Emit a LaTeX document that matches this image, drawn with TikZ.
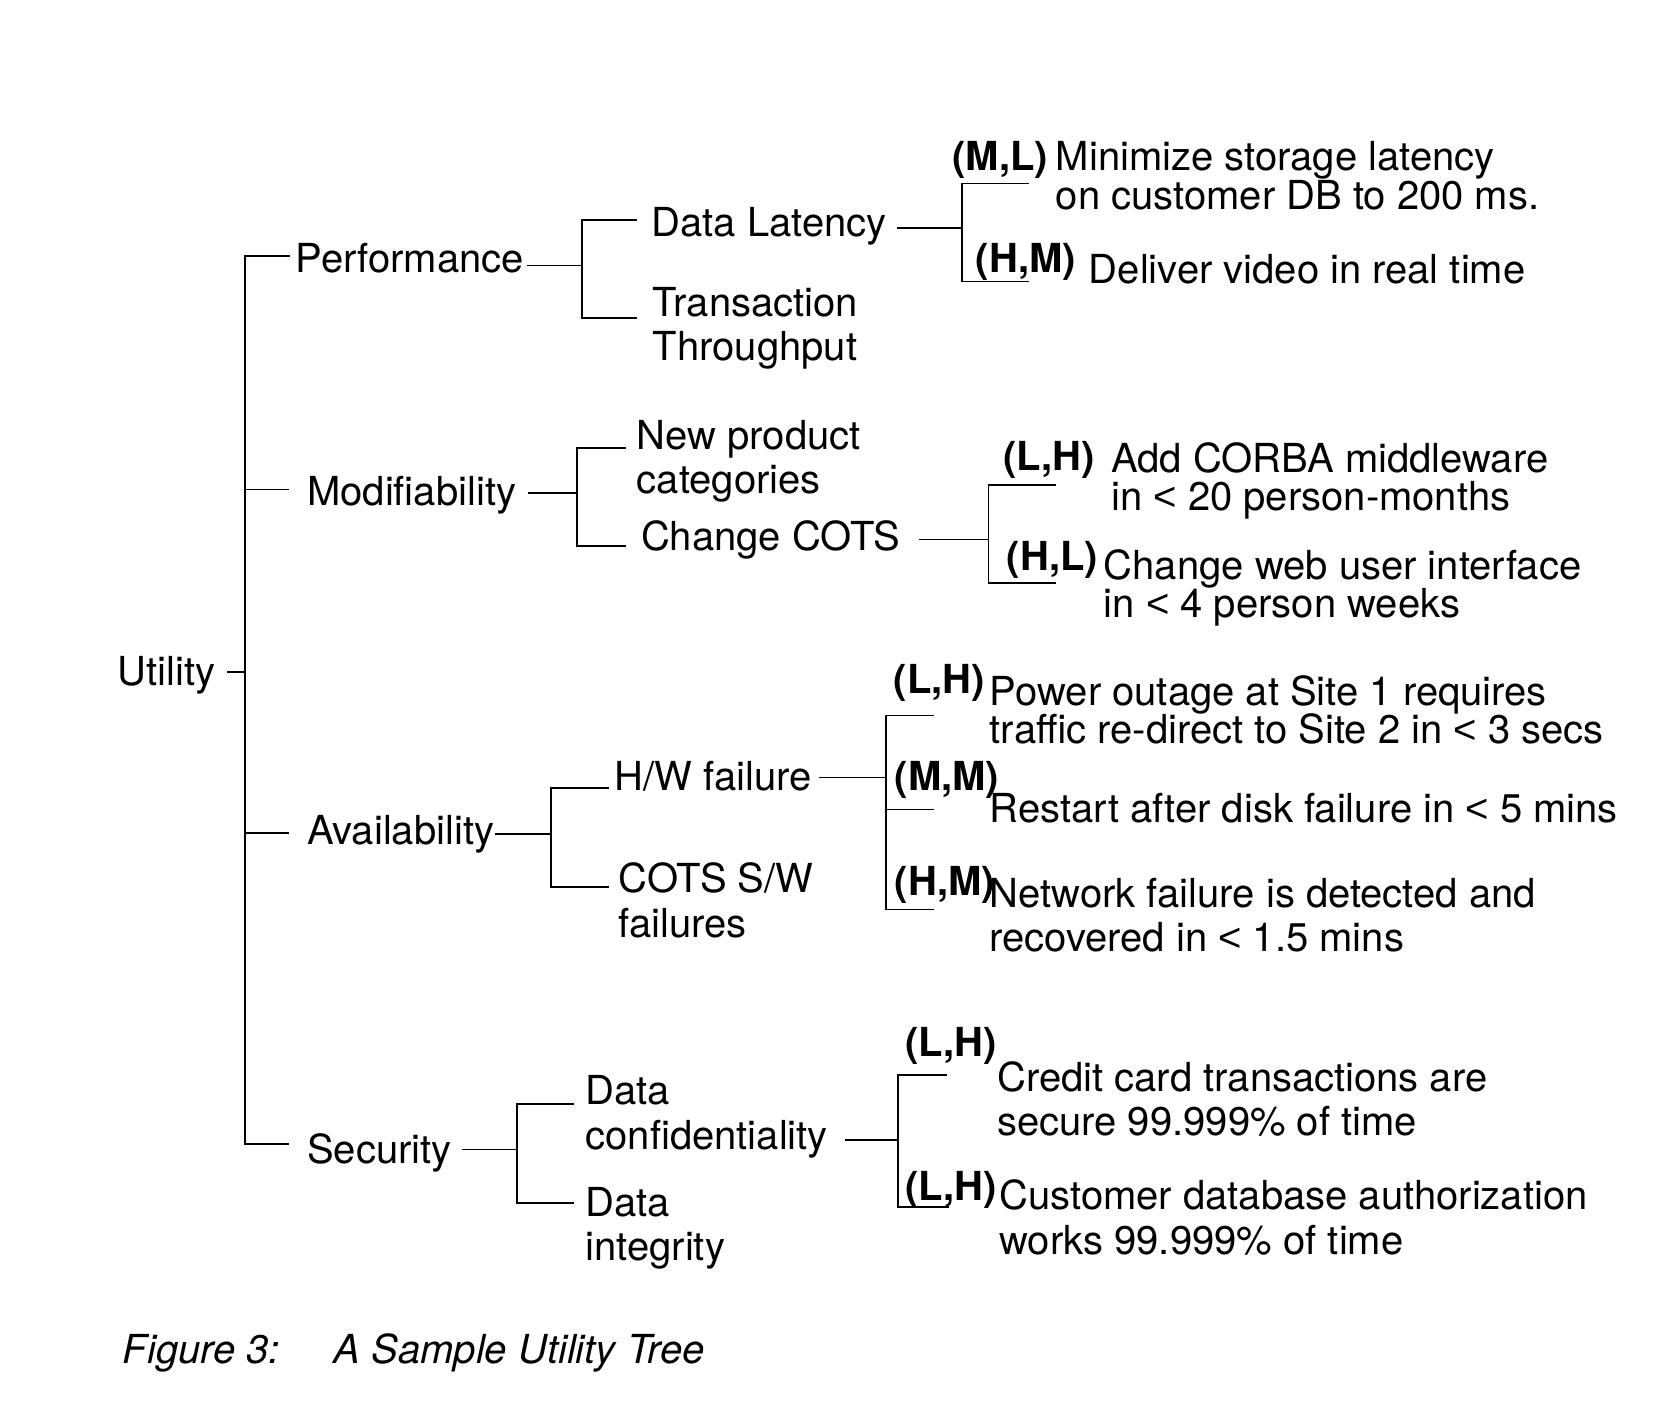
\documentclass[tikz,border=0pt]{standalone}
\usepackage{fontspec}
\setmainfont{TeX Gyre Heros}
\newfontfamily\lsfam{Liberation Sans}
\newcommand\ltsym{{\lsfam <}}
\begin{document}
\begin{tikzpicture}[x=1pt,y=-1pt,
  txt/.style={anchor=base west, inner sep=0pt, font=\fontsize{37.5}{40}\selectfont},
  rate/.style={anchor=base west, inner sep=0pt, font=\fontsize{37.5}{40}\selectfont\bfseries},
  capt/.style={anchor=base west, inner sep=0pt, font=\fontsize{37.5}{40}\selectfont\itshape},
  conn/.style={line width=1.6pt, line cap=butt, line join=miter}]
\fill[white] (0,0) rectangle (1568,1320);
\useasboundingbox (0,0) rectangle (1568,1320);

% ---- text nodes ----
\node[txt] (util) at (110,643) {Utility};
\node[txt] (perf) at (277,256) {Performance};
\node[txt] (modi) at (288,474) {Modifiability};
\node[txt] (avai) at (288,792) {Availability};
\node[txt] (secu) at (288,1091) {Security};

\node[txt] (dlat) at (611,222) {Data Latency};
\node[txt] (tthrA) at (612,297) {Transaction};
\node[txt] (tthrB) at (612,338) {Throughput};
\node[txt] (npcA) at (597,422) {New product};
\node[txt] (npcB) at (597,463) {categories};
\node[txt] (ccots) at (601,516) {Change COTS};
\node[txt] (hwf) at (576,741) {H/W failure};
\node[txt] (cswA) at (580,837) {COTS S/W};
\node[txt] (cswB) at (580,879) {failures};
\node[txt] (dconfA) at (549,1036) {Data};
\node[txt] (dconfB) at (549,1078) {confidentiality};
\node[txt] (dintA) at (549,1141) {Data};
\node[txt] (dintB) at (549,1182) {integrity};

\node[rate] (rA) at (893,160) {(M,L)};
\node[txt] (sAa) at (990,160) {Minimize storage latency};
\node[txt] (sAb) at (990,196) {on customer DB to 200 ms.};
\node[rate] (rB) at (915,256) {(H,M)};
\node[txt] (sB) at (1021,266) {Deliver video in real time};

\node[rate] (rC) at (941,441) {(L,H)};
\node[txt] (sCa) at (1042,443) {Add CORBA middleware};
\node[txt] (sCb) at (1042,479) {in \ltsym\ 20 person-months};
\node[rate] (rD) at (944,535) {(H,L)};
\node[txt] (sDa) at (1035,543) {Change web user interface};
\node[txt] (sDb) at (1035,579) {in \ltsym\ 4 person weeks};

\node[rate] (rE) at (838,650) {(L,H)};
\node[txt] (sEa) at (928,662) {Power outage at Site 1 requires};
\node[txt] (sEb) at (928,697) {traffic re-direct to Site 2 in \ltsym\ 3 secs};
\node[rate] (rF) at (839,741) {(M,M)};
\node[txt] (sF) at (928,771) {Restart after disk failure in \ltsym\ 5 mins};
\node[rate] (rG) at (839,840) {(H,M)};
\node[txt] (sGa) at (928,851) {Network failure is detected and};
\node[txt] (sGb) at (928,892) {recovered in \ltsym\ 1.5 mins};

\node[rate] (rH) at (849,991) {(L,H)};
\node[txt] (sHa) at (935,1024) {Credit card transactions are};
\node[txt] (sHb) at (935,1065) {secure 99.999\% of time};
\node[rate] (rI) at (849,1126) {(L,H)};
\node[txt] (sIa) at (937,1134) {Customer database authorization};
\node[txt] (sIb) at (937,1176) {works 99.999\% of time};

\node[capt] (figno) at (115,1279) {Figure 3:};
\node[capt] (figtitle) at (313,1279) {A Sample Utility Tree};

% ---- connector coordinates ----
\coordinate (u0) at (213,630);
\coordinate (uT) at (230,240);
\coordinate (uU) at (230,630);
\coordinate (uB) at (230,1073);
\coordinate (pT) at (272,240);
\coordinate (mT) at (271,459);
\coordinate (aT) at (271,781);
\coordinate (sT) at (271,1073);

% root
\draw[conn] (u0) -- (uU);
\draw[conn] (pT) -- (uT) -- (uB) -- (sT);
\draw[conn] (230,459) -- (mT);
\draw[conn] (230,781) -- (aT);

% performance
\coordinate (pO) at (494,249);
\coordinate (pJ) at (546,249);
\draw[conn] (pO) -- (pJ);
\draw[conn] (597,206) -- (546,206) -- (546,298) -- (597,298);
% modifiability
\coordinate (mO) at (495,462);
\coordinate (mJ) at (541,462);
\draw[conn] (mO) -- (mJ);
\draw[conn] (587,420) -- (541,420) -- (541,512) -- (587,512);
% availability
\coordinate (aO) at (464,782);
\coordinate (aJ) at (517,782);
\draw[conn] (aO) -- (aJ);
\draw[conn] (571,739) -- (517,739) -- (517,832) -- (571,832);
% security
\coordinate (sO) at (433,1078);
\coordinate (sJ) at (485,1078);
\draw[conn] (sO) -- (sJ);
\draw[conn] (538,1035) -- (485,1035) -- (485,1128) -- (538,1128);

% data latency
\coordinate (dlO) at (841,214);
\coordinate (dlJ) at (902,214);
\draw[conn] (dlO) -- (dlJ);
\draw[conn] (965,172) -- (902,172) -- (902,264) -- (965,264);
% change cots
\coordinate (ccO) at (862,506);
\coordinate (ccJ) at (927,506);
\draw[conn] (ccO) -- (ccJ);
\draw[conn] (990,455) -- (927,455) -- (927,547) -- (990,547);
% h/w failure
\coordinate (hwO) at (768,729);
\coordinate (hwJ) at (831,729);
\draw[conn] (hwO) -- (hwJ);
\draw[conn] (876,671) -- (831,671) -- (831,853) -- (876,853);
\draw[conn] (831,759) -- (876,759);
% data confidentiality
\coordinate (dcO) at (792,1069);
\coordinate (dcJ) at (842,1069);
\draw[conn] (dcO) -- (dcJ);
\draw[conn] (888,1008) -- (842,1008) -- (842,1132) -- (890,1132);
\end{tikzpicture}
\end{document}
